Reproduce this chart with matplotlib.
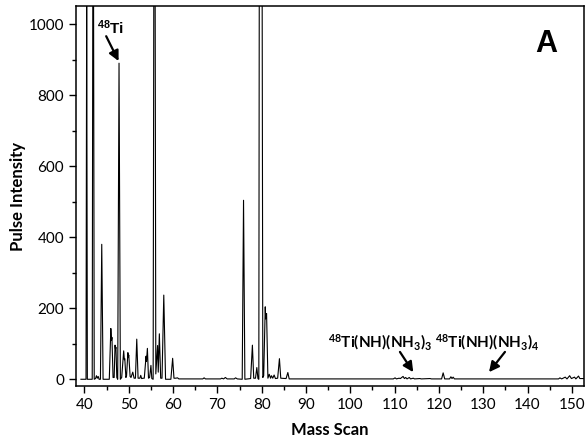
import matplotlib.pyplot as plt
from matplotlib.ticker import MultipleLocator

#####DATOS DEL ESPECTRO (vertices)#####
masa=[39.2,40.35,40.5,40.65,41.75,41.88,42.05,42.2,42.5,42.7,42.9,43.1,43.3,43.6,43.9,44.2,
      45.6,45.95,46.1,46.2,46.45,46.7,46.9,47.0,47.1,47.3,47.5,47.8,48.1,48.4,48.85,
      49.0,49.1,49.35,49.5,49.8,49.9,50.0,50.3,50.5,50.9,51.2,51.5,51.8,52.1,52.5,
      52.7,52.9,53.3,53.5,53.9,54.0,54.2,54.45,54.7,55.0,55.2,55.5,55.65,55.95,56.1,56.5,
      56.65,56.9,57.2,57.5,57.9,58.3,59.5,59.9,60.2,60.6,61.0,61.3,66.7,67.0,67.3,
      70.7,71.0,71.4,71.8,72.2,73.8,74.1,74.5,75.6,75.9,76.2,77.5,77.9,78.2,78.6,
      78.9,79.15,79.35,79.45,80.1,80.25,80.45,80.8,80.9,81.1,81.4,81.7,82.0,82.2,82.5,82.8,
      83.1,83.6,84.0,84.3,85.5,85.9,86.2,109.7,110.1,110.4,111.0,111.3,111.9,112.2,
      112.5,112.8,113.3,113.6,114.2,114.5,115.7,116.0,118.0,118.3,120.6,120.95,121.3,
      122.4,122.7,122.95,123.2,123.5,147.0,147.3,147.7,148.5,148.9,149.5,149.9,150.6,
      150.9,151.5,151.8,152.7]
pulso=[0,0,1100,0,0,1100,1100,0,2,10,3,8,0,0,380,0,
       0,143,110,118,5,5,96,85,90,5,0,890,0,5,80,
       55,58,5,10,75,62,68,8,5,20,3,3,113,3,3,
       11,2,3,3,65,50,87,3,5,39,2,0,1100,1100,15,95,
       20,128,3,3,237,0,0,59,3,3,4,1,1,4,1,
       1,3,1,5,1,1,4,1,0,504,0,2,96,3,3,
       33,2,0,1100,1100,5,10,204,170,185,3,14,3,10,3,12,
       2,3,58,3,2,19,1,1,4,1,3,2,8,2,
       5,1,5,1,3,1,2,1,2,1,1,18,1,
       1,7,2,6,1,1,4,1,6,1,10,2,6,
       1,9,2,2]

#####ETIQUETAS Y FLECHAS#####
etiquetas=["$\\mathregular{^{48}}$Ti",
           "$\\mathregular{^{48}}$Ti(NH)(NH$\\mathregular{_3}$)$\\mathregular{_3}$",
           "$\\mathregular{^{48}}$Ti(NH)(NH$\\mathregular{_3}$)$\\mathregular{_4}$"]
pos_texto=[(45.8,991),(106.7,104),(130.8,104)]
flecha_inicio=[(44.9,966),(111.2,77),(134.9,77)]
flecha_fin=[(47.7,896),(114.2,20),(131.3,20)]
fuente=["Liberation Sans","Lato","Lato"]

fig=plt.figure(figsize=(5.85,4.46),dpi=100)
ax=fig.add_axes([0.130,0.1345,0.868,0.852])

ax.plot(masa,pulso,color="black",linewidth=0.8)

ax.set_xlim(38.1,152.7)
ax.set_ylim(-19,1051)
ax.xaxis.set_major_locator(MultipleLocator(10))
ax.xaxis.set_minor_locator(MultipleLocator(5))
ax.yaxis.set_major_locator(MultipleLocator(200))
ax.yaxis.set_minor_locator(MultipleLocator(100))
ax.tick_params(which="major",direction="out",length=5,width=1,labelsize=11)
ax.tick_params(which="minor",direction="out",length=3,width=1)
for lab in ax.get_xticklabels()+ax.get_yticklabels():
    lab.set_fontfamily("Lato")
for s in ax.spines.values():
    s.set_linewidth(1.1)

ax.set_xlabel("Mass Scan",fontsize=12,fontweight="bold",family="Lato",labelpad=7)
ax.set_ylabel("Pulse Intensity",fontsize=12,fontweight="bold",family="Lato",labelpad=2)

#####ANOTACIONES#####
for i in range(3):
    ax.text(pos_texto[i][0],pos_texto[i][1],etiquetas[i],fontsize=11,fontweight="bold",
            family=fuente[i],ha="center",va="center")
    ax.annotate("",xy=flecha_fin[i],xytext=flecha_inicio[i],
                arrowprops=dict(arrowstyle="-|>",color="black",lw=1.6,mutation_scale=15,shrinkA=0,shrinkB=0))
ax.text(144.3,944,"A",fontsize=22,fontweight="bold",family="Liberation Sans",ha="center",va="center")

fig.savefig("out.png")
